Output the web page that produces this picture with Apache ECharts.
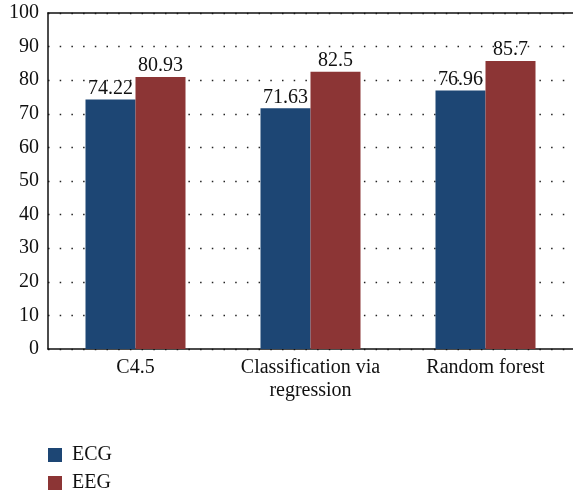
<!DOCTYPE html>
<html><head><meta charset="utf-8">
<script src="https://cdn.jsdelivr.net/npm/echarts@6/dist/echarts.min.js"></script>
<style>html,body{margin:0;padding:0;background:#fff}#c{width:573px;height:491px}</style>
</head><body><div id="c"></div>
<script>
const categories = ['C4.5', 'Classification via\nregression', 'Random forest'];
const ecg = [74.22, 71.63, 76.96];
const eeg = [80.93, 82.5, 85.7];
const yTicks = [0, 10, 20, 30, 40, 50, 60, 70, 80, 90, 100];

const font = 'Liberation Serif';
const fs = 20;
const chart = echarts.init(document.getElementById('c'));
const legendText = { fontFamily: font, fontSize: fs, color: '#111', padding: [0, 0, 0, 5] };
chart.setOption({
  animation: false,
  textStyle: { fontFamily: font },
  grid: { left: 48, right: 0, top: 13, bottom: 142 },
  legend: [{
    left: 43, top: 440, itemWidth: 14, itemHeight: 14, icon: 'rect',
    textStyle: legendText, data: ['ECG']
  }, {
    left: 43, top: 468, itemWidth: 14, itemHeight: 14, icon: 'rect',
    textStyle: legendText, data: ['EEG']
  }],
  xAxis: [{
    type: 'category', data: categories,
    axisLine: { lineStyle: { color: '#111', width: 1.5 } },
    axisTick: { show: false },
    axisLabel: { interval: 0, fontFamily: font, fontSize: fs, color: '#111', lineHeight: 23, margin: 7 }
  }, {
    type: 'category', position: 'top', data: categories,
    axisLine: { show: true, onZero: false, lineStyle: { color: '#111', width: 1.5 } },
    axisTick: { show: false }, axisLabel: { show: false }
  }],
  yAxis: {
    type: 'value', min: yTicks[0], max: yTicks[yTicks.length - 1], interval: 10,
    axisLine: { show: true, lineStyle: { color: '#111', width: 1.5 } },
    axisTick: { show: false },
    axisLabel: { fontFamily: font, fontSize: fs, color: '#111', margin: 9 },
    splitLine: { show: true, lineStyle: { color: '#222', type: [1.5, 10.2], width: 1.3 } }
  },
  series: [{
    name: 'ECG', type: 'bar', data: ecg, barWidth: 50, barGap: '0%',
    itemStyle: { color: '#1d4674' },
    label: { show: true, position: 'top', distance: 1, fontFamily: font, fontSize: fs, color: '#111' }
  }, {
    name: 'EEG', type: 'bar', data: eeg, barWidth: 50, barGap: '0%',
    itemStyle: { color: '#8c3535' },
    label: { show: true, position: 'top', distance: 1, fontFamily: font, fontSize: fs, color: '#111' }
  }]
});
</script></body></html>
